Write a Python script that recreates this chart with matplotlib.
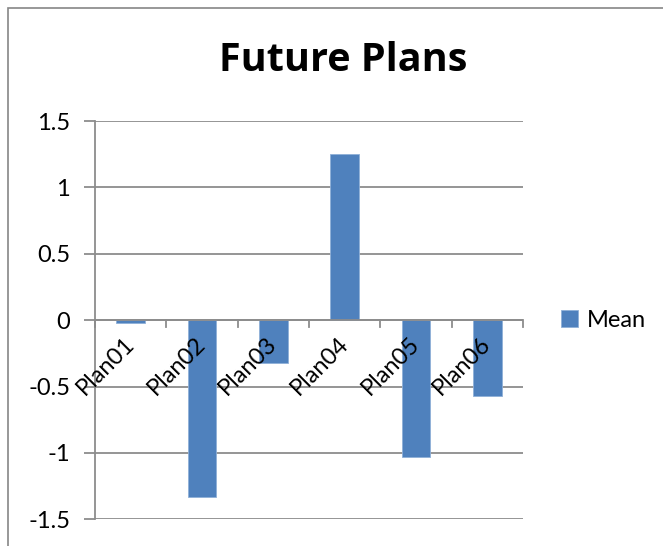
import matplotlib.pyplot as plt
from matplotlib.patches import Rectangle

plans = ['Plan01', 'Plan02', 'Plan03', 'Plan04', 'Plan05', 'Plan06']
mean = [-0.025, -1.333, -0.32, 1.25, -1.033, -0.575]
yticks = [-1.5, -1, -0.5, 0, 0.5, 1, 1.5]
yticklabels = ['-1.5', '-1', '-0.5', '0', '0.5', '1', '1.5']

plt.rcParams['font.family'] = ['Lato', 'DejaVu Sans']
grid_c = '#8c8c8c'

fig = plt.figure(figsize=(6.63, 5.46), dpi=100)
ax = fig.add_axes([95 / 663, 1 - 519.3 / 546, 428 / 663, 398.3 / 546])

# chart frame
fig.patches.append(Rectangle((8 / 663, -0.05), 1.1, 1 - 8 / 546 + 0.05,
                             transform=fig.transFigure, fill=False,
                             edgecolor='#868686', linewidth=1.2))

x = list(range(len(plans)))
ax.bar(x, mean, width=0.4, color='#4F81BD', edgecolor='#8fb0d8',
       linewidth=0.6, label='Mean', zorder=3)

ax.set_xlim(-0.5, len(plans) - 0.5)
ax.set_ylim(-1.5, 1.5)
ax.set_yticks(yticks)
ax.set_yticklabels(yticklabels)
ax.yaxis.grid(True, color=grid_c, linewidth=1.3)
ax.tick_params(axis='y', length=8, width=1.3, color=grid_c, pad=10, labelsize=17)

for s in ['top', 'right', 'bottom']:
    ax.spines[s].set_visible(False)
ax.spines['left'].set_color(grid_c)
ax.spines['left'].set_linewidth(1.3)

# category axis sits on the zero line
ax.axhline(0, color=grid_c, linewidth=1.3, zorder=4)
ax.set_xticks([])
for b in range(len(plans) + 1):
    ax.plot([b - 0.5, b - 0.5], [0, -0.055], color=grid_c, linewidth=1.3,
            zorder=4, clip_on=False)
for i, p in enumerate(plans):
    ax.text(i - 0.1, -0.1, p, rotation=45, ha='right', va='top',
            rotation_mode='anchor', fontsize=17, zorder=5)

fig.text(0.518, 0.89, 'Future Plans', ha='center', va='center',
         fontsize=28.5, fontweight='bold', family=['Open Sans', 'DejaVu Sans'])

leg = ax.legend(loc='center left', bbox_to_anchor=(1.04, 0.5),
                frameon=False, fontsize=17, handlelength=0.7,
                handleheight=0.7, handletextpad=0.4)

fig.savefig('out.png', dpi=100)
